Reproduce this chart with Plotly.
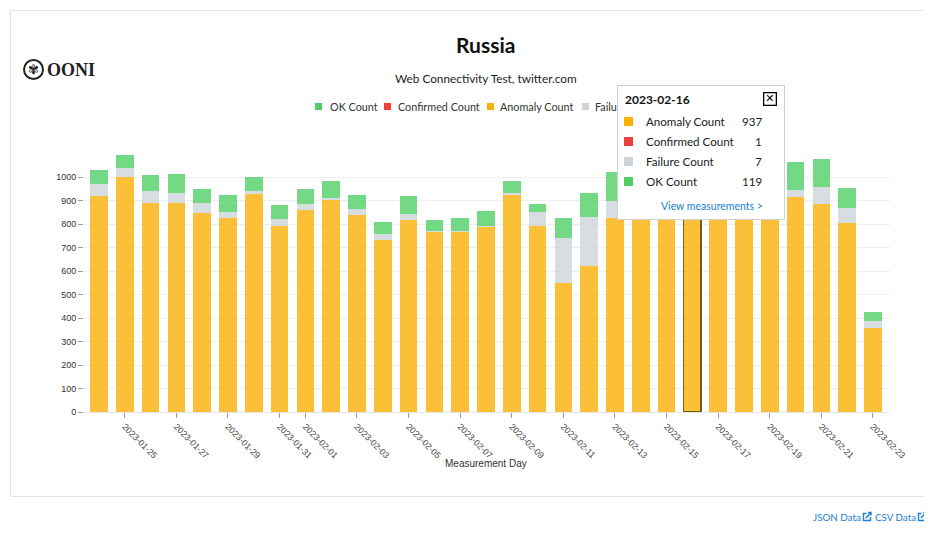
import plotly.graph_objects as go

# ---------------- data ----------------
dates = ["2023-01-24", "2023-01-25", "2023-01-26", "2023-01-27", "2023-01-28", "2023-01-29",
         "2023-01-30", "2023-01-31", "2023-02-01", "2023-02-02", "2023-02-03", "2023-02-04",
         "2023-02-05", "2023-02-06", "2023-02-07", "2023-02-08", "2023-02-09", "2023-02-10",
         "2023-02-11", "2023-02-12", "2023-02-13", "2023-02-14", "2023-02-15", "2023-02-16",
         "2023-02-17", "2023-02-18", "2023-02-19", "2023-02-20", "2023-02-21", "2023-02-22",
         "2023-02-23"]
anomaly = [921, 1001, 889, 892, 850, 827, 928, 793, 861, 905, 841, 733, 817, 765, 766, 789,
           923, 791, 550, 620, 826, 905, 920, 937, 930, 915, 925, 918, 888, 804, 356]
confirmed = [0, 0, 0, 0, 0, 0, 0, 0, 0, 0, 0, 0, 0, 0, 0, 0,
             0, 0, 0, 0, 0, 0, 0, 1, 0, 0, 0, 0, 0, 0, 0]
failure = [51, 40, 53, 40, 42, 27, 15, 30, 26, 8, 23, 27, 26, 8, 6, 5,
           9, 60, 190, 211, 72, 25, 15, 7, 10, 12, 18, 28, 71, 64, 33]
ok = [59, 54, 68, 82, 58, 71, 60, 58, 63, 71, 61, 50, 79, 45, 56, 63,
      52, 37, 88, 101, 125, 110, 112, 119, 118, 108, 115, 119, 119, 88, 39]
tick_dates = ["2023-01-25", "2023-01-27", "2023-01-29", "2023-01-31", "2023-02-01",
              "2023-02-03", "2023-02-05", "2023-02-07", "2023-02-09", "2023-02-11",
              "2023-02-13", "2023-02-15", "2023-02-17", "2023-02-19", "2023-02-21",
              "2023-02-23"]
y_ticks = [0, 100, 200, 300, 400, 500, 600, 700, 800, 900, 1000]
selected_day = "2023-02-16"
title = "Russia"
subtitle = "Web Connectivity Test, twitter.com"

# ---------------- style ----------------
OFF = 8                      # page body margin of the html page
W, H = 932, 536              # window size
L, R, T, B = 84, 890, 151, 412   # plot area in window pixels
C_OK, C_CONF, C_ANOM, C_FAIL = "#51CF66", "#F03E3E", "#FAB005", "#CED4DA"
BAR_OK, BAR_CONF, BAR_ANOM, BAR_FAIL = ("rgba(81,207,102,0.8)", "rgba(240,62,62,0.8)",
                                        "rgba(250,176,5,0.8)", "rgba(206,212,218,0.8)")
UI_FONT = "Lato, 'Noto Sans', sans-serif"
AX_FONT = "'Liberation Sans', Arial, sans-serif"
BLUE = "#1c7ed6"


def fx(x):
    return (x - L) / (R - L)


def fy(y):
    return (B - y) / (B - T)


sel_idx = dates.index(selected_day)
line_w = [1.3 if d == selected_day else 0 for d in dates]

fig = go.Figure()
for name, vals, col in [("Anomaly Count", anomaly, BAR_ANOM),
                        ("Confirmed Count", confirmed, BAR_CONF),
                        ("Failure Count", failure, BAR_FAIL),
                        ("OK Count", ok, BAR_OK)]:
    fig.add_trace(go.Bar(x=dates, y=vals, name=name, marker=dict(
        color=col, line=dict(width=line_w, color="rgba(85,70,25,0.85)"))))

annotations = []
shapes = []

# outer border
shapes.append(dict(type="rect", xref="paper", yref="paper", x0=fx(10.5), x1=fx(924.5),
                   y0=fy(496.5), y1=fy(10.5), line=dict(color="#e3e3e3", width=1),
                   fillcolor="rgba(0,0,0,0)", layer="below"))

# logo
shapes.append(dict(type="circle", xref="paper", yref="paper", x0=fx(24), x1=fx(43),
                   y0=fy(79), y1=fy(60), line=dict(color="#222", width=2)))
annotations.append(dict(xref="paper", yref="paper", x=fx(33.5), y=fy(69.5), text="✾",
                        showarrow=False, font=dict(size=13, color="#222", family="DejaVu Sans"),
                        xanchor="center", yanchor="middle"))
annotations.append(dict(xref="paper", yref="paper", x=fx(45), y=fy(70), text="<b>OONI</b>",
                        showarrow=False, font=dict(size=18, color="#222",
                                                   family="'Liberation Serif', serif"),
                        xanchor="left", yanchor="middle"))

# titles
annotations.append(dict(xref="paper", yref="paper", x=fx(485), y=fy(44), text="<b>" + title + "</b>",
                        showarrow=False, font=dict(size=21, color="#111", family=UI_FONT),
                        xanchor="center", yanchor="middle"))
annotations.append(dict(xref="paper", yref="paper", x=fx(485.5), y=fy(79), text=subtitle,
                        showarrow=False, font=dict(size=11.8, color="#222", family=UI_FONT),
                        xanchor="center", yanchor="middle"))

# axis title
annotations.append(dict(xref="paper", yref="paper", x=fx(486), y=fy(463), text="Measurement Day",
                        showarrow=False, font=dict(size=10, color="#333", family=AX_FONT),
                        xanchor="center", yanchor="middle"))


def square(cx, cy, col, size=8):
    return dict(xref="paper", yref="paper", x=fx(cx), y=fy(cy), text=" ", showarrow=False,
                width=size, height=size, bgcolor=col, borderpad=0, borderwidth=0,
                font=dict(size=4), xanchor="center", yanchor="middle")


# manual legend
legend_items = [("OK Count", C_OK, 318.5, 328), ("Confirmed Count", C_CONF, 387.5, 396),
                ("Anomaly Count", C_ANOM, 490, 498), ("Failure Count", C_FAIL, 585, 593)]
for lab, col, sx, tx in legend_items:
    annotations.append(square(sx, 106, col, 7))
    annotations.append(dict(xref="paper", yref="paper", x=fx(tx), y=fy(106), text=lab,
                            showarrow=False, font=dict(size=10.8, color="#333", family=UI_FONT),
                            xanchor="left", yanchor="middle"))

# tooltip (drawn on top)
tt_l, tt_t, tt_w, tt_h = 617, 85, 166, 133
annotations.append(dict(xref="paper", yref="paper", x=fx(tt_l + 2), y=fy(tt_t + 2), text=" ",
                        showarrow=False, width=tt_w, height=tt_h, bgcolor="rgba(0,0,0,0.10)",
                        borderpad=0, borderwidth=0, xanchor="left", yanchor="top"))
annotations.append(dict(xref="paper", yref="paper", x=fx(tt_l), y=fy(tt_t), text=" ",
                        showarrow=False, width=tt_w, height=tt_h, bgcolor="white",
                        bordercolor="#d0d0d0", borderwidth=1, borderpad=0,
                        xanchor="left", yanchor="top"))
annotations.append(dict(xref="paper", yref="paper", x=fx(623), y=fy(99), text="<b>" + selected_day + "</b>",
                        showarrow=False, font=dict(size=12, color="#111", family=UI_FONT),
                        xanchor="left", yanchor="middle"))
annotations.append(dict(xref="paper", yref="paper", x=fx(770), y=fy(98.5), text="<b>✕</b>",
                        showarrow=False, font=dict(size=11, color="#000", family="DejaVu Sans"),
                        bordercolor="#000", borderwidth=1.3, borderpad=0, width=11, height=11,
                        xanchor="center", yanchor="middle"))
rows = [("Anomaly Count", C_ANOM, anomaly[sel_idx], 122),
        ("Confirmed Count", C_CONF, confirmed[sel_idx], 142),
        ("Failure Count", C_FAIL, failure[sel_idx], 161.5),
        ("OK Count", C_OK, ok[sel_idx], 181)]
for lab, col, val, ry in rows:
    annotations.append(square(628, ry, col, 9))
    annotations.append(dict(xref="paper", yref="paper", x=fx(644), y=fy(ry), text=lab,
                            showarrow=False, font=dict(size=11.6, color="#222", family=UI_FONT),
                            xanchor="left", yanchor="middle"))
    annotations.append(dict(xref="paper", yref="paper", x=fx(764), y=fy(ry), text=str(val),
                            showarrow=False, font=dict(size=11.6, color="#222", family=UI_FONT),
                            xanchor="right", yanchor="middle"))
annotations.append(dict(xref="paper", yref="paper", x=fx(765), y=fy(206), text="View measurements >",
                        showarrow=False, font=dict(size=10.5, color=BLUE, family=UI_FONT),
                        xanchor="right", yanchor="middle"))

# bottom links (text right edge, icon left edge)
for lab, right, icon_x in [("JSON Data", 862, 863), ("CSV Data", 917, 918)]:
    annotations.append(dict(xref="paper", yref="paper", x=fx(right), y=fy(517), text=lab,
                            showarrow=False, font=dict(size=9.8, color=BLUE, family=UI_FONT),
                            xanchor="right", yanchor="middle", borderpad=0))
    x0 = icon_x
    path = "M {a},{b} L {c},{b} L {c},{d} L {e},{d} L {e},{f}".format(
        a=fx(x0 + 3.5), b=fy(513.5), c=fx(x0 + 0.5), d=fy(520.5), e=fx(x0 + 7.5), f=fy(517))
    shapes.append(dict(type="path", xref="paper", yref="paper", path=path,
                       line=dict(color=BLUE, width=1.4)))
    arrow = "M {a},{b} L {c},{d} M {e},{d} L {c},{d} L {c},{f}".format(
        a=fx(x0 + 3), b=fy(518), c=fx(x0 + 8), d=fy(512.5), e=fx(x0 + 5), f=fy(515.5))
    shapes.append(dict(type="path", xref="paper", yref="paper", path=arrow,
                       line=dict(color=BLUE, width=1.4)))

ymax = 1000 * (B - T) / (412.0 - 177.3)

fig.update_layout(
    width=W - OFF, height=H - OFF,
    margin=dict(l=L - OFF, r=W - R, t=T - OFF, b=H - B, autoexpand=False),
    paper_bgcolor="white", plot_bgcolor="white",
    barmode="stack", bargap=0.32, showlegend=False, hovermode=False,
    font=dict(family=AX_FONT, color="#333"),
    xaxis=dict(type="category", range=[-0.58, 30.66], tickmode="array", tickvals=tick_dates,
               ticktext=tick_dates, tickangle=45, ticks="outside", ticklen=5, tickcolor="#999",
               tickfont=dict(size=8.8, color="#444", family=AX_FONT), showline=True,
               linecolor="#e6e6e6", linewidth=1, showgrid=False, fixedrange=True),
    yaxis=dict(range=[0, ymax], tickmode="array", tickvals=y_ticks, ticks="outside", ticklen=5,
               tickcolor="#999", tickfont=dict(size=9, color="#333", family=AX_FONT),
               showgrid=True, gridcolor="#eeeeee", zeroline=False, showline=False,
               fixedrange=True),
    annotations=annotations, shapes=shapes,
)

fig.write_html("out.html")
